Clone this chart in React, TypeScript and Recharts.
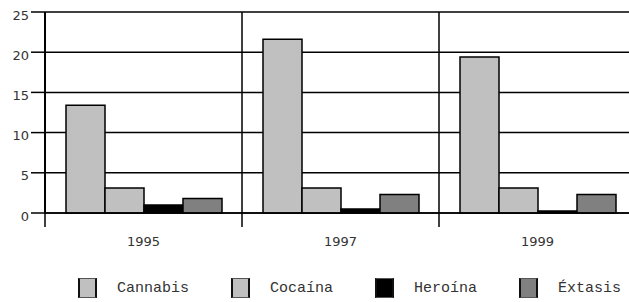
import React from "react";
import { BarChart, Bar, XAxis, YAxis, CartesianGrid, Legend } from "recharts";

const YEARS = ["1995", "1997", "1999"];
const CANNABIS = [13.4, 21.6, 19.4];
const COCAINA = [3.1, 3.1, 3.1];
const HEROINA = [1.0, 0.5, 0.25];
const EXTASIS = [1.8, 2.3, 2.3];
const Y_TICKS = [0, 5, 10, 15, 20, 25];

const SERIES = [
  { key: "cannabis", name: "Cannabis", color: "#c0c0c0" },
  { key: "cocaina", name: "Cocaína", color: "#c0c0c0" },
  { key: "heroina", name: "Heroína", color: "#000000" },
  { key: "extasis", name: "Éxtasis", color: "#808080" },
];

const data = YEARS.map((year, i) => ({
  year,
  cannabis: CANNABIS[i],
  cocaina: COCAINA[i],
  heroina: HEROINA[i],
  extasis: EXTASIS[i],
}));

const CHART_W = 636;
const CHART_H = 302;
const LEFT = 1;
const AXIS_W = 44;
const BAND = (CHART_W - LEFT - AXIS_W) / YEARS.length;

function YearTick({ x, y, payload }: any) {
  const left = x - BAND / 2;
  return (
    <g>
      <line x1={left} y1={y} x2={left} y2={y + 14} stroke="#000" strokeWidth={1.5} />
      <text x={x} y={y + 33} textAnchor="middle" fontFamily="DejaVu Sans" fontSize={13} fill="#333">
        {payload.value}
      </text>
    </g>
  );
}

function LegendBox() {
  return (
    <div style={{ height: 39, display: "flex", alignItems: "center", paddingLeft: 77, paddingTop: 11, boxSizing: "border-box" }}>
      {SERIES.map(s => (
        <div key={s.key} style={{ display: "flex", alignItems: "center", marginRight: 42 }}>
          <div
            style={{
              width: 15, height: 18, background: s.color, marginRight: 20,
              borderLeft: "2px solid #111", borderRight: "2px solid #111",
              borderTop: "1px solid #555", borderBottom: "1px solid #555",
            }}
          />
          <span style={{ fontFamily: "Liberation Mono", fontSize: 15, color: "#333" }}>{s.name}</span>
        </div>
      ))}
    </div>
  );
}

export default function App() {
  return (
    <div style={{ position: "fixed", left: 0, top: 0, width: 629, height: 302, overflow: "hidden", background: "#fff" }}>
      <BarChart
        width={CHART_W}
        height={CHART_H}
        data={data}
        margin={{ top: 12, right: 0, bottom: 0, left: LEFT }}
        barCategoryGap={21}
        barGap={0}
      >
        <CartesianGrid
          stroke="#000"
          strokeWidth={1.5}
          verticalCoordinatesGenerator={({ offset }: any) =>
            YEARS.slice(1).map((_, i) => offset.left + ((i + 1) * offset.width) / YEARS.length)
          }
        />
        <XAxis
          dataKey="year"
          height={50}
          tickSize={0}
          tickMargin={0}
          tickLine={false}
          axisLine={{ stroke: "#000", strokeWidth: 1.5 }}
          tick={<YearTick />}
          interval={0}
        />
        <YAxis
          width={AXIS_W}
          domain={[0, 25]}
          ticks={Y_TICKS}
          tickSize={14}
          tickMargin={2}
          axisLine={{ stroke: "#000", strokeWidth: 2 }}
          tickLine={{ stroke: "#000", strokeWidth: 1.5 }}
          tick={{ fontFamily: "DejaVu Sans", fontSize: 13, fill: "#333", dy: 3 }}
        />
        <Legend verticalAlign="bottom" content={<LegendBox />} />
        {SERIES.map(s => (
          <Bar key={s.key} dataKey={s.key} name={s.name} fill={s.color} stroke="#000" strokeWidth={1.5} isAnimationActive={false} />
        ))}
      </BarChart>
    </div>
  );
}
